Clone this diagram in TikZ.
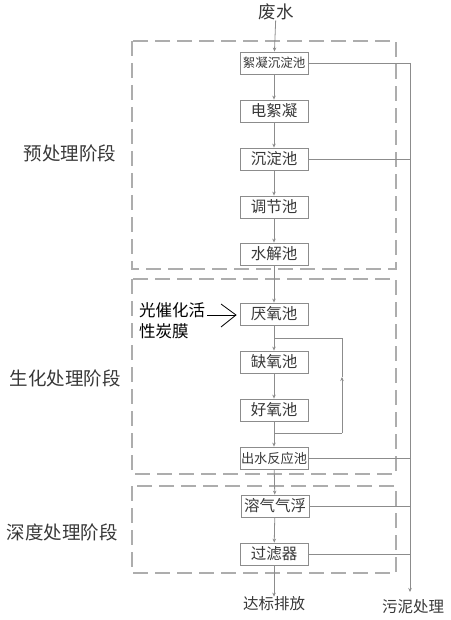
\documentclass[tikz,border=0pt]{standalone}
\usepackage{fontspec}
\setmainfont{Noto Sans CJK SC}
\usetikzlibrary{arrows.meta}
\definecolor{linec}{gray}{0.55}
\definecolor{dashc}{gray}{0.68}
\definecolor{txt}{gray}{0.22}
\begin{document}
\begin{tikzpicture}[x=1pt,y=-1pt,
  box/.style={draw=linec, line width=0.8pt, minimum width=68pt, minimum height=22pt, inner sep=0pt, font=\fontsize{15.5}{15.5}\selectfont, text=txt},
  flow/.style={draw=linec, line width=0.8pt, -{Stealth[length=4pt,width=3.5pt]}},
  plain/.style={draw=linec, line width=0.8pt},
  stage/.style={dashc, line width=1.4pt, dash pattern=on 15pt off 7pt},
  lbl/.style={font=\fontsize{18.5}{18.5}\selectfont, text=txt, inner sep=0pt}]
\useasboundingbox (0,0) rectangle (450,620);
% stage boxes
\draw[stage] (132,41) rectangle (396,269);
\draw[stage] (132,279) rectangle (396,474);
\draw[stage] (132,486) rectangle (396,573);
% stage labels
\node[lbl] (l1) at (70,153) {预处理阶段};
\node[lbl] (l2) at (65,378) {生化处理阶段};
\node[lbl] (l3) at (62,532) {深度处理阶段};
% process boxes
\node[lbl, font=\fontsize{17.5}{17.5}\selectfont] (in) at (276,12) {废水};
\node[box, font=\fontsize{12.5}{12.5}\selectfont] (b1) at (274,63) {絮凝沉淀池};
\node[box] (b2) at (274,111) {电絮凝};
\node[box] (b3) at (274,159) {沉淀池};
\node[box] (b4) at (274,207) {调节池};
\node[box] (b5) at (274,254) {水解池};
\node[box] (b6) at (274,314) {厌氧池};
\node[box] (b7) at (274,362) {缺氧池};
\node[box] (b8) at (274,410) {好氧池};
\node[box, font=\fontsize{13.2}{13.2}\selectfont] (b9) at (274,458) {出水反应池};
\node[box] (b10) at (275,506) {溶气气浮};
\node[box] (b11) at (274,554) {过滤器};
\node[lbl, font=\fontsize{15.5}{15.5}\selectfont] (out) at (274,604) {达标排放};
\node[lbl, font=\fontsize{15.5}{15.5}\selectfont] (sl) at (413,607) {污泥处理};
\node[lbl, text=black, align=left, anchor=north west, font=\fontsize{16.5}{21}\selectfont] (cat) at (139,302) {光催化活\\性炭膜};
% main flow
\draw[flow] (in) -- (b1);
\draw[flow] (b1) -- (b2);
\draw[flow] (b2) -- (b3);
\draw[flow] (b3) -- (b4);
\draw[flow] (b4) -- (b5);
\draw[flow] (b5) -- (b6);
\draw[flow] (b6) -- (b7);
\draw[flow] (b7) -- (b8);
\draw[flow] (b8) -- (b9);
\draw[flow] (b9) -- (b10);
\draw[flow] (b10) -- (b11);
\draw[flow] (b11.south) -- (out.north);
% catalyst arrow (open chevron head)
\coordinate (cs) at (207,315);
\coordinate (ct) at (236,315);
\draw[black, line width=0.8pt] (cs) -- (ct);
\draw[black, line width=0.8pt, line join=miter] (221,304) -- (ct) -- (221,327);
% reflux loop
\coordinate (rb) at (274,433);
\coordinate (rbr) at (342,433);
\coordinate (rm) at (342,377);
\coordinate (rtr) at (342,338);
\coordinate (rt) at (274,338);
\draw[plain] (rb) -- (rbr);
\draw[flow] (rbr) -- (rm);
\draw[plain] (rm) -- (rtr) -- (rt);
% sludge lines
\coordinate (s1) at (410,63);
\coordinate (s2) at (410,159);
\coordinate (s3) at (410,458);
\coordinate (s4) at (410,506);
\coordinate (s5) at (410,554);
\coordinate (send) at (410,592);
\draw[plain] (b1.east) -- (s1);
\draw[plain] (b3.east) -- (s2);
\draw[plain] (b9.east) -- (s3);
\draw[plain] (b10.east) -- (s4);
\draw[plain] (b11.east) -- (s5);
\draw[flow] (s1) -- (send);
\end{tikzpicture}
\end{document}
